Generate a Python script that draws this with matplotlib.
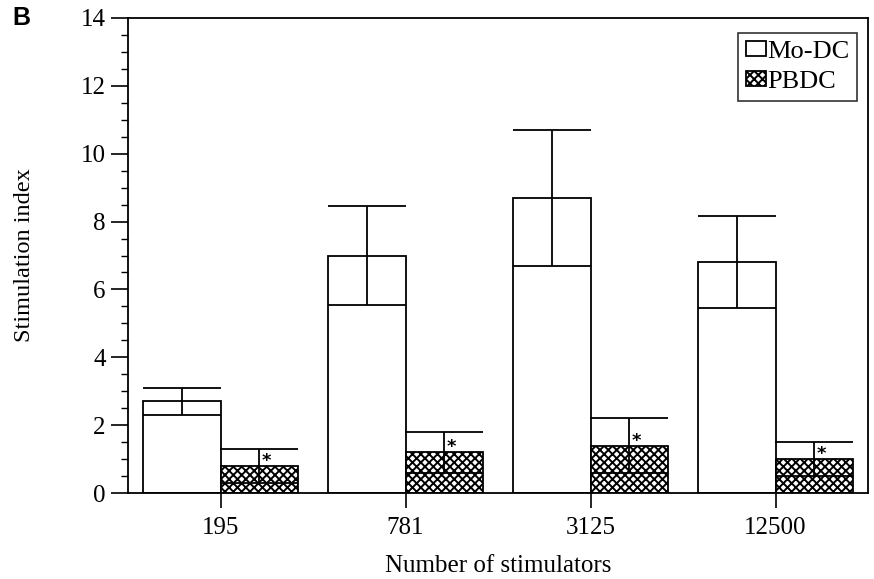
import matplotlib
matplotlib.use("Agg")
import matplotlib.pyplot as plt
import numpy as np
from matplotlib.ticker import MultipleLocator

categories = ["195", "781", "3125", "12500"]
modc = [2.7, 7.0, 8.7, 6.8]
modc_err = [0.4, 1.45, 2.0, 1.35]
pbdc = [0.8, 1.2, 1.4, 1.0]
pbdc_err = [0.5, 0.6, 0.8, 0.5]
series_names = ["Mo-DC", "PBDC"]

plt.rcParams['font.family'] = ['Liberation Serif', 'DejaVu Serif']
plt.rcParams['hatch.linewidth'] = 1.4

fig = plt.figure(figsize=(8.74, 5.79), dpi=100)
ax = fig.add_axes([128/874, 1-493/579, (868-128)/874, (493-18)/579])

x = np.arange(len(categories))
w = 0.42
ax.bar(x - w/2, modc, width=w, facecolor='white', edgecolor='black', linewidth=1.3, label=series_names[0], zorder=2)
ax.bar(x + w/2, pbdc, width=w, facecolor='white', edgecolor='black', hatch='xxxx', linewidth=1.3, label=series_names[1], zorder=2)
cap = 39 * 72 / 100
ax.errorbar(x - w/2, modc, yerr=modc_err, fmt='none', ecolor='black', elinewidth=1.3, capsize=cap, capthick=1.3, zorder=3)
ax.errorbar(x + w/2, pbdc, yerr=pbdc_err, fmt='none', ecolor='black', elinewidth=1.3, capsize=cap, capthick=1.3, zorder=3)
for xi, v in zip(x + w/2, pbdc):
    ax.text(xi + 0.012, v - 0.12, '*', fontsize=13, fontweight='bold', ha='left', va='bottom', family='DejaVu Sans', zorder=4)

ax.set_xlim(-0.5, 3.5)
ax.set_ylim(0, 14)
ax.set_xticks(x)
ax.set_xticklabels(categories, fontsize=18)
ax.yaxis.set_major_locator(MultipleLocator(2))
ax.yaxis.set_minor_locator(MultipleLocator(0.5))
ax.tick_params(axis='y', which='major', direction='out', length=12, width=1.2, labelsize=18, pad=4)
ax.tick_params(axis='y', which='minor', direction='out', length=5, width=1.0)
ax.tick_params(axis='x', which='major', direction='out', length=11, width=1.2, pad=6)
for s in ax.spines.values():
    s.set_linewidth(1.3)

ax.set_ylabel('Stimulation index', fontsize=17.5, labelpad=33)
ax.set_xlabel('Number of stimulators', fontsize=18, labelpad=12)

leg = ax.legend(loc='upper right', bbox_to_anchor=(857/874, 1-33/579), bbox_transform=fig.transFigure,
                fontsize=19, frameon=True, fancybox=False, edgecolor='black', handlelength=0.75,
                handleheight=0.45, handletextpad=0.05, borderpad=0.3, labelspacing=0.3, borderaxespad=0)
leg.get_frame().set_linewidth(1.2)

fig.text(12/874, 1-18/579, 'B', fontsize=18, fontweight='bold', family='Liberation Sans', va='center', ha='left')

fig.savefig('out.png', dpi=100)
